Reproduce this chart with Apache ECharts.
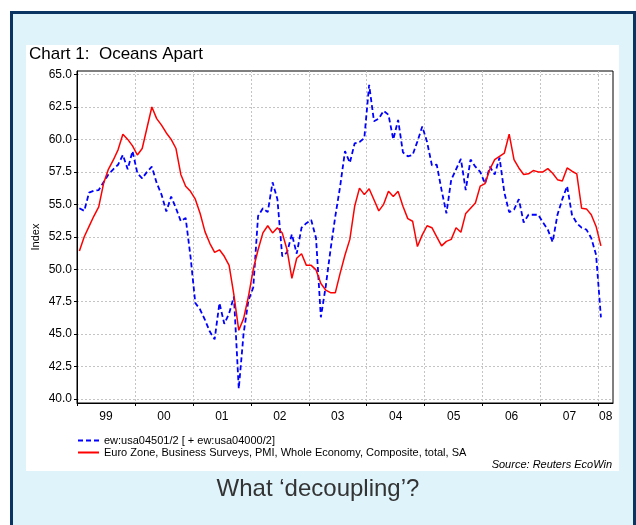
<!DOCTYPE html>
<html lang="en">
<head>
<meta charset="UTF-8">
<title>Chart 1: Oceans Apart</title>
<script src="https://cdn.jsdelivr.net/npm/echarts@6/dist/echarts.min.js"></script>
<style>
  body { margin: 0; background: #fff; }
  #frame { position: absolute; left: 10px; top: 11px; width: 620px; height: 530px;
           border: 3px solid #0b3463; background: #dff3fb; }
  #panel { position: absolute; left: 26px; top: 45px; width: 593px; height: 426px; background: #fff; }
  #main { position: absolute; left: 0; top: 0; width: 636px; height: 525px; }
</style>
</head>
<body>
<div id="frame"></div>
<div id="panel"></div>
<div id="main"></div>
<script type="text/javascript">
  // monthly data, Jan 1999 .. Jan 2008
  var startYear = 1999;
  var years = [1999, 2000, 2001, 2002, 2003, 2004, 2005, 2006, 2007, 2008];
  var yTicks = [40, 42.5, 45, 47.5, 50, 52.5, 55, 57.5, 60, 62.5, 65];

  // ew:usa04501/2 [ + ew:usa04000/2]  (US ISM composite)
  var usa = [
    54.7, 54.5, 55.9, 56.05, 56.1, 56.7, 57.3, 57.7, 58.05, 58.8, 57.7, 59.1,
    57.4, 57.0, 57.5, 57.9, 56.65, 55.75, 54.45, 55.6, 54.7, 53.7, 53.95, 51.0,
    47.4, 46.9, 46.1, 45.2, 44.6, 47.4, 45.8, 46.6, 47.9, 40.8, 45.05, 47.6,
    48.6, 54.1, 54.7, 54.4, 56.7, 55.4, 51.0, 51.3, 52.7, 51.2, 53.2, 53.55,
    53.8, 52.4, 46.3, 48.65, 51.5, 54.1, 56.4, 59.1, 58.2, 59.7, 59.8, 60.1,
    64.2, 61.4, 61.6, 62.2, 61.9, 60.0, 61.5, 59.0, 58.7, 58.8, 59.85, 61.0,
    59.8, 58.0, 58.05, 56.1, 54.3, 56.9, 57.7, 58.5, 56.1, 58.45, 57.9, 57.5,
    56.6, 57.9, 57.3, 58.6, 55.9, 54.4, 54.6, 55.4, 53.6, 54.2, 54.2, 54.2,
    53.6, 53.05, 52.1, 54.2, 55.4, 56.4, 54.2, 53.55, 53.2, 53.05, 52.4, 51.1,
    46.3
  ];
  // Euro Zone composite PMI
  var euro = [
    51.4, 52.5, 53.3, 54.1, 54.8, 56.6, 57.7, 58.4, 59.2, 60.4, 60.0, 59.5,
    58.8, 59.3, 60.9, 62.5, 61.6, 61.1, 60.5, 60.0, 59.3, 57.3, 56.4, 56.0,
    55.4, 54.3, 52.9, 52.0, 51.3, 51.5, 51.0, 50.3, 48.0, 45.3, 46.2, 47.9,
    50.0, 51.5, 52.8, 53.35, 52.8, 53.2, 52.8, 51.5, 49.3, 50.85, 51.2, 50.3,
    50.3, 49.95, 48.9, 48.4, 48.2, 48.2, 49.7, 51.1, 52.3, 54.85, 56.25, 55.75,
    56.2, 55.35, 54.5, 55.0, 56.0, 55.6, 56.0, 54.85, 53.9, 53.7, 51.75, 52.65,
    53.35, 53.2, 52.5, 51.8, 52.15, 52.3, 53.2, 52.85, 54.3, 54.7, 55.1, 56.4,
    56.6, 57.7, 58.45, 58.7, 58.95, 60.4, 58.45, 57.8, 57.3, 57.35, 57.6, 57.5,
    57.5, 57.75, 57.4, 56.9, 56.8, 57.8, 57.55, 57.35, 54.7, 54.65, 54.2, 53.3,
    51.8
  ];
  var usaName = 'ew:usa04501/2 [ + ew:usa04000/2]';
  var euroName = 'Euro Zone, Business Surveys, PMI, Whole Economy, Composite, total, SA';

  function toPoints(arr) {
    return arr.map(function (v, i) {
      return [startYear + (i + 0.5) / 12, v];
    });
  }

  var xMax = 2008.25;
  var font = 'Arial, "Liberation Sans", sans-serif';
  var gridLine = { show: true, lineStyle: { color: '#c4c4c4', type: [2, 2], width: 1 } };

  var myChart = echarts.init(document.getElementById('main'));
  myChart.setOption({
    backgroundColor: 'transparent',
    animation: false,
    textStyle: { fontFamily: font },
    title: [
      { text: 'Chart 1:  Oceans Apart', left: 24, top: 41,
        textStyle: { fontSize: 17, fontWeight: 'normal', color: '#000', fontFamily: font } },
      { text: 'Source: Reuters EcoWin', right: 19, top: 454,
        textStyle: { fontSize: 11, fontWeight: 'normal', fontStyle: 'italic', color: '#000', fontFamily: font } },
      { text: 'What \u2018decoupling\u2019?', left: 'center', top: 472,
        textStyle: { fontSize: 24, fontWeight: 'normal', color: '#333', fontFamily: font } }
    ],
    legend: {
      orient: 'vertical',
      left: 72,
      top: 430,
      itemWidth: 21,
      itemHeight: 10,
      itemGap: 1,
      itemStyle: { opacity: 0 },
      textStyle: { fontSize: 11, lineHeight: 11, color: '#000', fontFamily: font },
      data: [usaName, euroName]
    },
    grid: {
      left: 77, right: 23, top: 71, bottom: 122,
      show: true, borderColor: '#000', borderWidth: 1
    },
    xAxis: {
      type: 'value',
      min: startYear,
      max: xMax,
      axisLine: { lineStyle: { color: '#000', width: 1 } },
      axisTick: { show: true, length: 3, customValues: years, lineStyle: { color: '#000' } },
      axisLabel: {
        customValues: years.map(function (y, i) {
          return i === years.length - 1 ? (y + xMax) / 2 : y + 0.5;
        }),
        formatter: function (v) { return String(Math.floor(v)).slice(2); },
        fontSize: 12, color: '#000', margin: 8
      },
      splitLine: gridLine
    },
    yAxis: {
      type: 'value',
      min: 39.7,
      max: 65.27,
      name: 'Index',
      nameLocation: 'middle',
      nameGap: 36,
      nameMoveOverlap: false,
      nameTextStyle: { fontSize: 11, color: '#000' },
      axisLine: { show: true, lineStyle: { color: '#000', width: 1 } },
      axisTick: { show: true, length: 3, customValues: yTicks, lineStyle: { color: '#000' } },
      axisLabel: {
        customValues: yTicks,
        formatter: function (v) { return v.toFixed(1); },
        fontSize: 12, color: '#000', margin: 5
      },
      splitLine: gridLine
    },
    series: [
      {
        name: usaName,
        type: 'line',
        data: toPoints(usa),
        symbol: 'none',
        lineStyle: { color: '#0000ff', width: 1.8, type: [5, 3] },
        itemStyle: { color: '#0000ff' }
      },
      {
        name: euroName,
        type: 'line',
        data: toPoints(euro),
        symbol: 'none',
        lineStyle: { color: '#ff0000', width: 1.5 },
        itemStyle: { color: '#ff0000' }
      }
    ]
  });
</script>
</body>
</html>
